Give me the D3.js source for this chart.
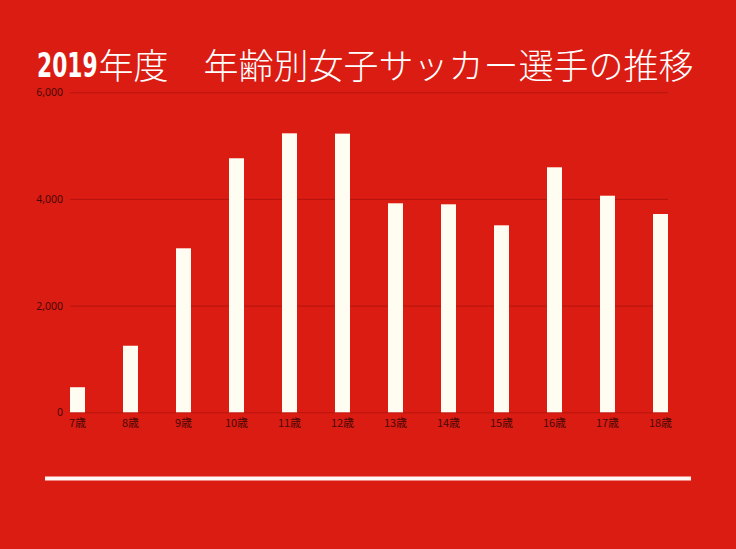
<!DOCTYPE html>
<html>
<head>
<meta charset="utf-8">
<script src="https://cdn.jsdelivr.net/npm/d3@7"></script>
<style>
  body { margin: 0; background: #db1c13; }
  svg { display: block; }
</style>
</head>
<body>
<svg id="chart" width="736" height="549"></svg>
<script>
// ages on the x axis and the number of players for each
const ages = ["7歳", "8歳", "9歳", "10歳", "11歳", "12歳", "13歳", "14歳", "15歳", "16歳", "17歳", "18歳"];
const players = [470, 1248, 3075, 4763, 5231, 5225, 3919, 3900, 3506, 4594, 4061, 3718];
const yTicks = [0, 2000, 4000, 6000];

const svg = d3.select("#chart");
const W = +svg.attr("width"), H = +svg.attr("height");

svg.append("rect").attr("width", W).attr("height", H).attr("fill", "#db1c13");

// plot area (note: "top" is taken by window.top)
const plotL = 70, plotR = 668, plotT = 92.3, plotB = 412.3;

const x = d3.scaleBand().domain(ages).range([plotL, plotR]).paddingInner(0.717).paddingOuter(0);
const y = d3.scaleLinear().domain([0, 6000]).range([plotB, plotT]);

// gridlines + tick labels via axis
const yAxis = svg.append("g")
  .attr("transform", "translate(" + plotL + ",0)")
  .call(d3.axisLeft(y).tickValues(yTicks).tickSize(-(plotR - plotL)).tickPadding(7).tickFormat(d3.format(",")));
yAxis.select(".domain").remove();
yAxis.selectAll(".tick line").attr("stroke", "#b5140e").attr("stroke-width", 1);
yAxis.selectAll("text")
  .attr("fill", "#4a0806")
  .attr("font-family", "'Noto Sans', sans-serif")
  .attr("font-size", 10.5);

// bars
svg.append("g").selectAll("rect")
  .data(players)
  .enter().append("rect")
  .attr("x", (d, i) => x(ages[i]))
  .attr("y", d => y(d))
  .attr("width", x.bandwidth())
  .attr("height", d => y(0) - y(d))
  .attr("fill", "#fffcf2");

// x labels
const xAxis = svg.append("g")
  .attr("transform", "translate(0," + plotB + ")")
  .call(d3.axisBottom(x).tickSize(0).tickPadding(7));
xAxis.select(".domain").remove();
xAxis.selectAll("text")
  .attr("fill", "#4a0806")
  .attr("font-family", "'Noto Sans CJK JP', sans-serif")
  .attr("font-size", 11);

// title - year in a squeezed bold face, rest in light gothic
const yearScale = 0.66;
const year = svg.append("text")
  .attr("transform", "translate(37,76.5) scale(" + yearScale + ",1)")
  .attr("fill", "#ffffff")
  .attr("font-family", "'DejaVu Sans', sans-serif")
  .attr("font-weight", "bold")
  .attr("font-size", 33)
  .text("2019");
const yearW = year.node().getComputedTextLength() * yearScale;

svg.append("text")
  .attr("x", 37 + yearW + 1)
  .attr("y", 79)
  .attr("fill", "#ffffff")
  .attr("font-family", "'Noto Sans CJK JP', sans-serif")
  .attr("font-weight", 300)
  .attr("font-size", 35)
  .text("年度　年齢別女子サッカー選手の推移");

// bottom rule
svg.append("rect")
  .attr("x", 45).attr("y", 476.5)
  .attr("width", 646).attr("height", 4)
  .attr("fill", "#fff5f2");
</script>
</body>
</html>
